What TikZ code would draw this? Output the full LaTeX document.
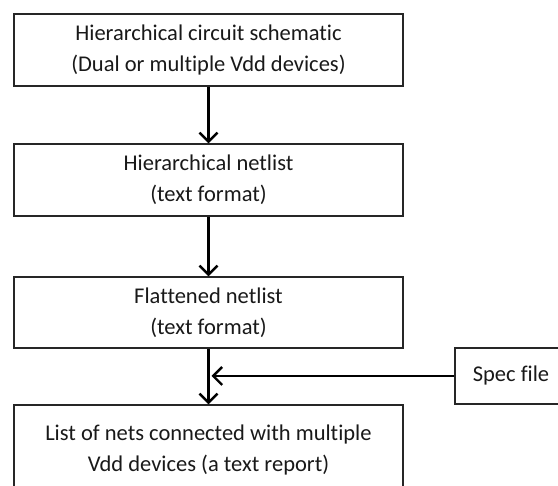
\documentclass[tikz,border=0pt]{standalone}
\usepackage{fontspec}
\setmainfont{Carlito}[Ligatures=NoCommon]
\usetikzlibrary{arrows.meta}

\begin{document}
\begin{tikzpicture}[x=1pt,y=-1pt,
  flowbox/.style={draw=black!85, line width=1.4pt, fill=white, align=center,
    minimum width=389pt, inner sep=0pt,
    font=\fontsize{22.5}{31}\selectfont, text=black!90},
  flowarrow/.style={line width=2.4pt, draw=black,
    -{Straight Barb[length=9pt,width=18pt,line width=2.4pt]}}
]
\useasboundingbox (0,0) rectangle (558,486);
\clip (0,0) rectangle (558,486);

% main flow of boxes
\node[flowbox, minimum height=72pt] (schem) at (208.5,50)
  {Hierarchical circuit schematic\\(Dual or multiple Vdd devices)};
\node[flowbox, minimum height=72pt] (hnet) at (208.5,180)
  {Hierarchical netlist\\(text format)};
\node[flowbox, minimum height=71pt] (fnet) at (208.5,312.5)
  {Flattened netlist\\(text format)};
\node[flowbox, minimum height=90pt] (report) at (208.5,450)
  {List of nets connected with multiple\\Vdd devices (a text report)};

% side input
\node[flowbox, minimum width=112pt, minimum height=56pt] (spec) at (511,376)
  {Spec file};

% connectors
\draw[flowarrow] (schem.south) -- (hnet.north);
\draw[flowarrow] (hnet.south) -- (fnet.north);
\draw[flowarrow] (fnet.south) -- (report.north);
\coordinate (join) at (211.5,376);
\draw[flowarrow] (spec.west) -- (join);
\end{tikzpicture}
\end{document}
